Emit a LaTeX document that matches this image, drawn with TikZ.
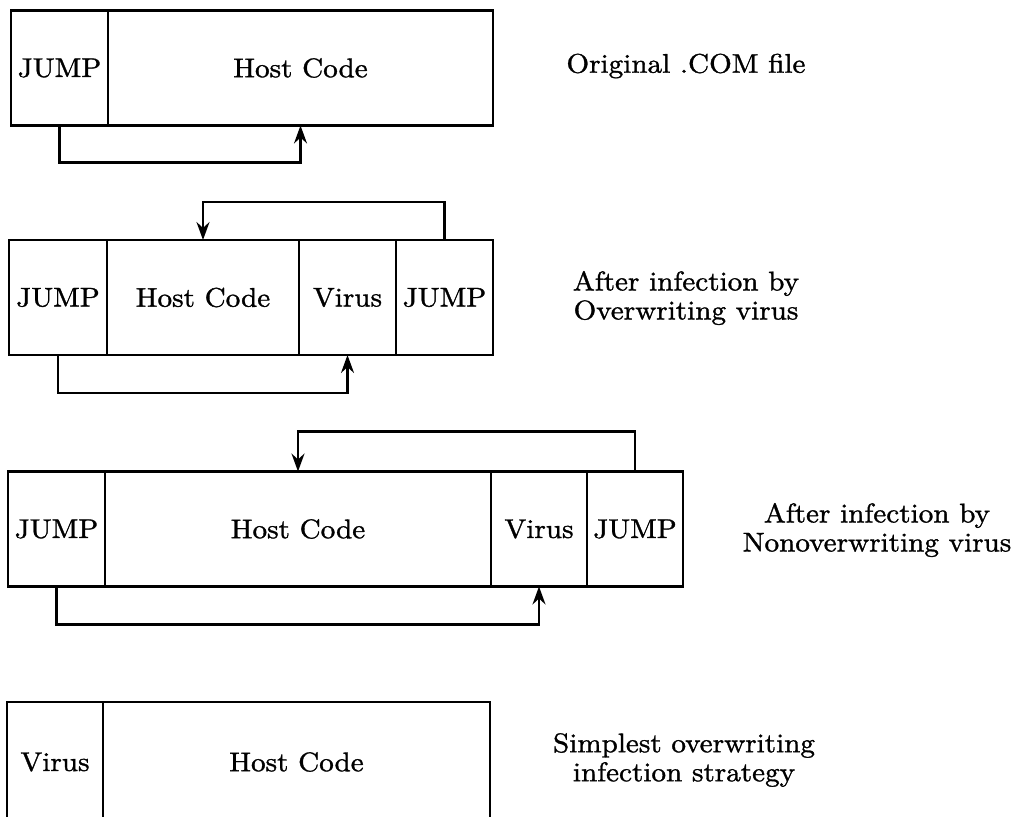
\documentclass[tikz,border=0pt]{standalone}
\usepackage{fontspec}
\setmainfont{lmroman10-regular.otf}[FakeStretch=1.08,FakeBold=1.2]
\usetikzlibrary{positioning,arrows.meta}

\tikzset{
  cell/.style={draw, line width=2.4pt, minimum height=115pt, inner sep=0pt,
    outer sep=0pt, font=\fontsize{27}{29}\selectfont},
  caption/.style={align=center, font=\fontsize{27}{29}\selectfont},
  jmp/.style={line width=2.4pt, -{Stealth[length=18pt,width=13pt,inset=6pt]}}
}

\begin{document}
\begin{tikzpicture}[x=1pt,y=-1pt]
    \useasboundingbox (0,0) rectangle (1016,816);

    % original .COM file
    \node[cell, minimum width=97pt] (jmpA) at (59.5,68) {JUMP};
    \node[cell, minimum width=385pt, right=0pt of jmpA] (hostA) {Host Code};
    \node[caption] (capA) at (686,66) {Original .COM file};
    \draw[jmp] (jmpA.south) -- ++(0,37) -| (hostA.south);

    % overwriting virus
    \node[cell, minimum width=98pt] (jmpB) at (58,297.5) {JUMP};
    \node[cell, minimum width=192pt, right=0pt of jmpB] (hostB) {Host Code};
    \node[cell, minimum width=97pt, right=0pt of hostB] (virB) {Virus};
    \node[cell, minimum width=97pt, right=0pt of virB] (backB) {JUMP};
    \node[caption] (capB) at (686,298) {After infection by\\Overwriting virus};
    \draw[jmp] (jmpB.south) -- ++(0,38) -| (virB.south);
    \draw[jmp] (backB.north) -- ++(0,-38) -| (hostB.north);

    % nonoverwriting virus
    \node[cell, minimum width=97pt] (jmpC) at (56.5,529) {JUMP};
    \node[cell, minimum width=386pt, right=0pt of jmpC] (hostC) {Host Code};
    \node[cell, minimum width=96pt, right=0pt of hostC] (virC) {Virus};
    \node[cell, minimum width=96pt, right=0pt of virC] (backC) {JUMP};
    \node[caption] (capC) at (877,530) {After infection by\\Nonoverwriting virus};
    \draw[jmp] (jmpC.south) -- ++(0,38) -| (virC.south);
    \draw[jmp] (backC.north) -- ++(0,-40) -| (hostC.north);

    % simplest strategy (runs off the bottom edge)
    \node[cell, minimum width=96pt, minimum height=120pt] (virD) at (55,762) {Virus};
    \node[cell, minimum width=387pt, minimum height=120pt, right=0pt of virD] (hostD) {Host Code};
    \node[caption] (capD) at (684,760) {Simplest overwriting\\infection strategy};
\end{tikzpicture}
\end{document}
